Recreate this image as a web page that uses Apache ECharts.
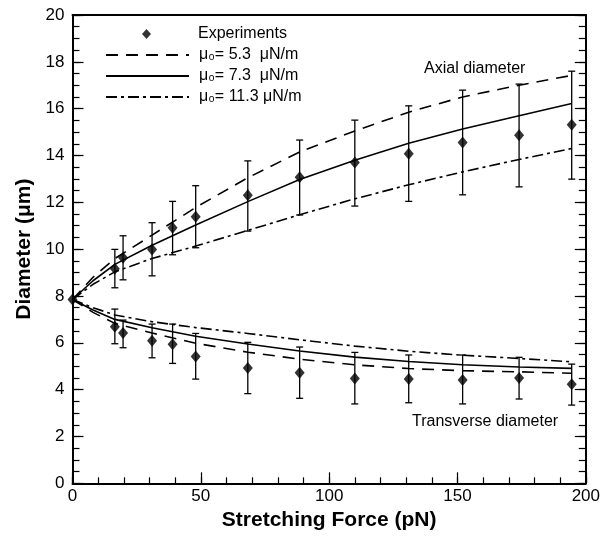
<!DOCTYPE html>
<html>
<head>
<meta charset="utf-8">
<script src="https://cdn.jsdelivr.net/npm/echarts@6/dist/echarts.min.js"></script>
<style>
html,body{margin:0;padding:0;background:#fff;}
#chart{width:603px;height:539px;}
</style>
</head>
<body>
<div id="chart"></div>
<script>
// ---- Data ----
var expForce   = [0, 16.5, 19.7, 31, 39, 48, 68.3, 88.5, 110, 131, 152, 174, 194.5];
var axialMean  = [7.85, 9.16, 9.63, 9.99, 10.91, 11.38, 12.30, 13.07, 13.70, 14.07, 14.56, 14.86, 15.31];
var axialHigh  = [null, 9.99, 10.57, 11.13, 12.04, 12.71, 13.77, 14.66, 15.51, 16.12, 16.79, 17.05, 17.60];
var axialLow   = [null, 8.35, 8.69, 8.86, 9.76, 10.06, 10.77, 11.46, 11.84, 12.04, 12.32, 12.66, 12.99];
var transMean  = [7.85, 6.69, 6.42, 6.09, 5.94, 5.42, 4.92, 4.72, 4.48, 4.45, 4.41, 4.50, 4.23];
var transHigh  = [null, 7.44, 6.97, 6.80, 6.80, 6.40, 6.02, 5.82, 5.59, 5.48, 5.48, 5.38, 5.09];
var transLow   = [null, 5.96, 5.79, 5.36, 5.12, 4.45, 3.83, 3.63, 3.39, 3.44, 3.39, 3.60, 3.34];

var curveForce   = [0, 8, 16.5, 31, 48, 68.3, 88.5, 110, 131, 152, 174, 194.5];
var axial53      = [7.85, 8.8, 9.6, 10.6, 11.78, 13.05, 14.15, 15.05, 15.85, 16.5, 17.0, 17.42];
var axial73      = [7.85, 8.65, 9.35, 10.17, 11.03, 12.03, 12.97, 13.8, 14.52, 15.13, 15.7, 16.22];
var axial113     = [7.85, 8.5, 9.03, 9.6, 10.13, 10.8, 11.47, 12.15, 12.75, 13.3, 13.83, 14.3];
var trans53      = [7.85, 7.3, 6.83, 6.42, 5.98, 5.6, 5.3, 5.06, 4.9, 4.81, 4.76, 4.7];
var trans73      = [7.85, 7.4, 7.0, 6.64, 6.28, 5.95, 5.65, 5.39, 5.2, 5.06, 4.97, 4.91];
var trans113     = [7.85, 7.5, 7.19, 6.9, 6.65, 6.4, 6.13, 5.86, 5.64, 5.47, 5.33, 5.19];

var name53 = 'μ₀= 5.3  μN/m';
var name73 = 'μ₀= 7.3  μN/m';
var name113 = 'μ₀= 11.3 μN/m';
var xTicks = [0, 50, 100, 150, 200];
var yTicks = [0, 2, 4, 6, 8, 10, 12, 14, 16, 18, 20];

// ---- Build ----
function pairs(xs, ys) { return xs.map(function (x, i) { return [x, ys[i]]; }); }
var scatterData = pairs(expForce, axialMean).concat(pairs(expForce.slice(1), transMean.slice(1)));
var errData = [];
expForce.forEach(function (x, i) {
  if (axialHigh[i] != null) errData.push([x, axialLow[i], axialHigh[i]]);
  if (transHigh[i] != null) errData.push([x, transLow[i], transHigh[i]]);
});

var FONT = 'Liberation Sans';
var dashA = [12, 8];
var dashDot = [11, 4, 3, 4];
var xMin = xTicks[0], xMax = xTicks[xTicks.length - 1];
var yMin = yTicks[0], yMax = yTicks[yTicks.length - 1];

function curve(name, ys, dash) {
  return {
    name: name, type: 'line', data: pairs(curveForce, ys),
    showSymbol: false, symbol: 'none', smooth: false,
    lineStyle: { color: '#000', width: 1.6, type: dash },
    itemStyle: { color: '#000' }, z: 3, silent: true
  };
}
function tickAxis(kind, pos, interval, len, extra) {
  var a = {
    type: 'value', position: pos, interval: interval,
    min: kind === 'x' ? xMin : yMin, max: kind === 'x' ? xMax : yMax,
    axisLine: { show: false, onZero: false }, splitLine: { show: false }, axisLabel: { show: false },
    axisTick: { show: true, inside: true, length: len, lineStyle: { color: '#000', width: 1.2 } }
  };
  return Object.assign(a, extra || {});
}
var solidLine = { show: true, onZero: false, lineStyle: { color: '#000', width: 2 } };

var chart = echarts.init(document.getElementById('chart'), null, { renderer: 'canvas' });

chart.setOption({
  animation: false,
  backgroundColor: '#fff',
  grid: { left: 72.5, right: 15.5, top: 15, bottom: 55.7, containLabel: false },
  xAxis: [
    tickAxis('x', 'bottom', 50, 11, {
      axisLine: solidLine,
      name: 'Stretching Force (pN)', nameLocation: 'middle', nameGap: 26,
      nameTextStyle: { color: '#000', fontFamily: FONT, fontSize: 21, fontWeight: 'bold' },
      axisLabel: { show: true, color: '#000', fontFamily: FONT, fontSize: 17, margin: 5 }
    }),
    tickAxis('x', 'top', 50, 0, { axisLine: solidLine, axisTick: { show: false } }),
    tickAxis('x', 'bottom', 10, 6)
  ],
  yAxis: [
    tickAxis('y', 'left', 2, 11, {
      axisLine: solidLine,
      name: 'Diameter (μm)', nameLocation: 'middle', nameGap: 38,
      nameTextStyle: { color: '#000', fontFamily: FONT, fontSize: 21, fontWeight: 'bold' },
      axisLabel: { show: true, color: '#000', fontFamily: FONT, fontSize: 17, margin: 8 }
    }),
    tickAxis('y', 'right', 2, 11, { axisLine: solidLine }),
    tickAxis('y', 'left', 0.5, 7),
    tickAxis('y', 'right', 0.5, 7)
  ],
  legend: [
    {
      data: ['Experiments'], orient: 'vertical', left: 100, top: 21,
      itemWidth: 83, itemHeight: 10,
      icon: 'path://M0,0 M83,10 M41.5,0 L46,5 L41.5,10 L37,5 Z',
      itemStyle: { color: '#000' },
      textStyle: { color: '#000', fontFamily: FONT, fontSize: 16, padding: [0, 0, 0, 5] },
      selectedMode: false
    },
    {
      data: [name53, name73, name113], orient: 'vertical', left: 100, top: 42,
      itemWidth: 83, itemHeight: 14, itemGap: 5,
      itemStyle: { color: 'rgba(0,0,0,0)', borderWidth: 0, opacity: 0 },
      textStyle: { color: '#000', fontFamily: FONT, fontSize: 16, padding: [0, 0, 0, 5] },
      selectedMode: false
    }
  ],
  graphic: [
    { type: 'text', left: 424, top: 61, style: { text: 'Axial diameter', font: '16px "Liberation Sans"', fill: '#000' } },
    { type: 'text', left: 412, top: 414, style: { text: 'Transverse diameter', font: '16px "Liberation Sans"', fill: '#000' } }
  ],
  series: [
    curve(name53, axial53, dashA),
    curve(name73, axial73, 'solid'),
    curve(name113, axial113, dashDot),
    curve(name53, trans53, dashA),
    curve(name73, trans73, 'solid'),
    curve(name113, trans113, dashDot),
    {
      name: 'errors', type: 'custom', data: errData, z: 4, silent: true,
      renderItem: function (params, api) {
        var x = api.value(0);
        var lo = api.coord([x, api.value(1)]);
        var hi = api.coord([x, api.value(2)]);
        var hw = 3.5;
        var st = { stroke: '#000', lineWidth: 1.3 };
        return {
          type: 'group',
          children: [
            { type: 'line', shape: { x1: lo[0], y1: lo[1], x2: hi[0], y2: hi[1] }, style: st },
            { type: 'line', shape: { x1: lo[0] - hw, y1: lo[1], x2: lo[0] + hw, y2: lo[1] }, style: st },
            { type: 'line', shape: { x1: hi[0] - hw, y1: hi[1], x2: hi[0] + hw, y2: hi[1] }, style: st }
          ]
        };
      }
    },
    {
      name: 'Experiments', type: 'scatter', data: scatterData, symbol: 'diamond',
      symbolSize: [10, 12], itemStyle: { color: '#000' }, z: 5, silent: true
    }
  ]
});
</script>
</body>
</html>
